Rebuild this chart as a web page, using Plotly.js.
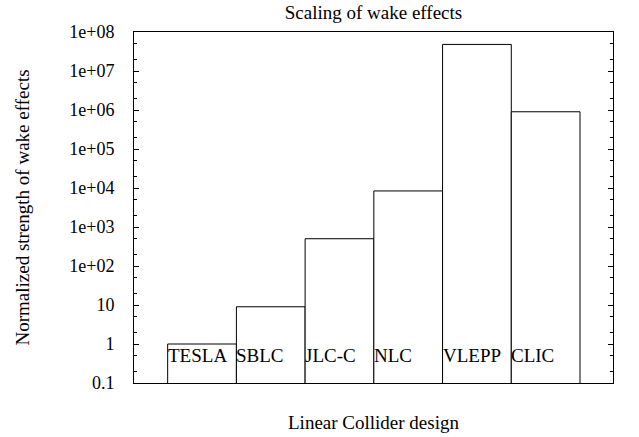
<!DOCTYPE html>
<html>
<head>
<meta charset="utf-8">
<script src="https://cdn.plot.ly/plotly-3.0.1.min.js"></script>
<style>html,body{margin:0;padding:0;background:#fff;}#chart{width:639px;height:437px;}</style>
</head>
<body>
<div id="chart"></div>
<script>
var designs = ["TESLA", "SBLC", "JLC-C", "NLC", "VLEPP", "CLIC"];
var strength = [1, 9, 500, 8400, 4.8e7, 9.0e5];
var tickValues = [0.1, 1, 10, 100, 1e3, 1e4, 1e5, 1e6, 1e7, 1e8];
var tickLabels = ["0.1", "1", "10", "1e+02", "1e+03", "1e+04", "1e+05", "1e+06", "1e+07", "1e+08"];
var labelLevel = 0.5;

var minorVals = [];
for (var d = -1; d < 8; d++) {
  minorVals.push(2 * Math.pow(10, d));
  minorVals.push(5 * Math.pow(10, d));
}

var font = {family: "Liberation Serif, Times New Roman, serif", size: 19, color: "#000"};
var tickFont = {family: "Liberation Serif, Times New Roman, serif", size: 18, color: "#000"};

var trace = {
  type: "bar",
  x: designs,
  y: strength,
  width: 1,
  marker: {color: "#ffffff", line: {color: "#000000", width: 1}},
  hoverinfo: "x+y"
};

var annotations = designs.map(function (name, i) {
  return {
    x: i - 0.5, xref: "x",
    y: Math.log10(labelLevel), yref: "y",
    text: name, showarrow: false,
    xanchor: "left", yanchor: "middle",
    xshift: -2,
    font: font
  };
});

var layout = {
  width: 639, height: 437,
  margin: {l: 134, r: 26, t: 32, b: 54},
  paper_bgcolor: "#fff", plot_bgcolor: "#fff",
  font: font,
  showlegend: false,
  bargap: 0,
  title: {text: "Scaling of wake effects", font: font, x: 0.5845, xanchor: "center", y: 0.972, yanchor: "middle"},
  xaxis: {
    type: "category",
    range: [-0.99, 5.98],
    showticklabels: false,
    ticks: "",
    showgrid: false,
    zeroline: false,
    showline: true, linecolor: "#000", linewidth: 1, mirror: true,
    title: {text: "Linear Collider design", font: font, standoff: 32}
  },
  yaxis: {
    type: "log",
    range: [-1, 8],
    tickvals: tickValues,
    ticktext: tickLabels,
    tickfont: tickFont,
    ticks: "inside", ticklen: 5, tickcolor: "#000", tickwidth: 1,
    minor: {tickvals: minorVals, ticks: "inside", ticklen: 3, tickcolor: "#000", tickwidth: 1, showgrid: false},
    ticklabelstandoff: 15,
    showgrid: false,
    zeroline: false,
    showline: true, linecolor: "#000", linewidth: 1, mirror: "ticks",
    title: {text: "Normalized strength of wake effects", font: font, standoff: 34}
  },
  annotations: annotations
};

Plotly.newPlot("chart", [trace], layout, {displayModeBar: false, staticPlot: true});
</script>
</body>
</html>
